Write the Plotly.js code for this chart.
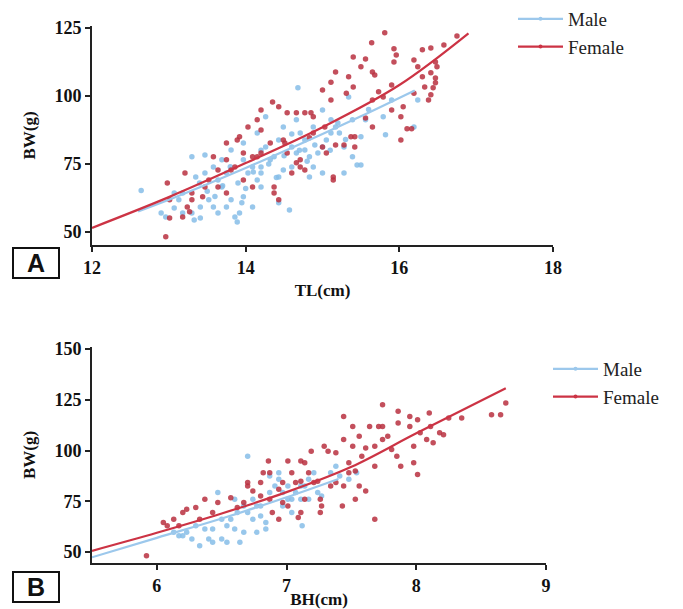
<!DOCTYPE html>
<html>
<head>
<meta charset="utf-8">
<script src="https://cdn.plot.ly/plotly-3.0.1.min.js"></script>
<style>html,body{margin:0;padding:0;background:#fff;}#chart{width:683px;height:609px;}</style>
</head>
<body>
<div id="chart"></div>
<script>
// ---------- Panel A : TL (cm) vs BW (g) ----------
var tlMaleX = [12.64,12.9,12.96,13.07,13.13,13.18,13.3,13.33,13.41,13.47,13.52,13.58,13.64,13.64,13.69,13.75,13.81,13.86,13.89,13.92,13.95,13.97,13.97,14.03,14.09,14.15,14.2,14.2,14.26,14.32,14.37,14.43,14.49,14.43,14.57,14.6,14.66,14.68,14.71,14.77,14.83,14.88,14.94,15.0,15.05,15.11,15.17,15.22,15.28,15.34,15.39,15.45,15.5,15.5,15.56,15.82,15.79,15.9,14.26,14.15,13.97,13.81,13.69,13.58,13.47,13.35,13.3,14.88,14.49,14.66,15.0,15.11,14.43,14.77,14.2,14.09,13.75,13.41,13.18,13.07,14.6,14.83,15.0,15.28,15.39,16.19,16.24,
  13.5,13.7,13.9,14.1,14.3,14.5,14.7,14.9,15.1,15.3,13.6,14.0,14.4,14.8,15.2,15.6,14.6,14.2,13.8,13.4];
var tlMaleY = [65.2,57,55.5,58.8,61.8,57,57,54.4,55.1,78.3,61.8,59.2,57,69.1,66.5,71.7,61.8,55.5,53.7,57,60.7,62.9,76.5,71.7,73.9,69.1,66.5,73.9,81.2,76.5,77.6,70.2,72.8,60.7,58.1,81.2,79,103,86.4,83.8,77.6,73.9,79,81.2,83.8,86.4,88.6,86.4,71.7,99.6,91.2,74.6,74.6,85,91.2,85.7,92.3,98.5,92.3,86.4,82.7,80.1,76.5,73.9,71.7,70.2,77.6,88.6,88.6,91.2,94.8,91.2,83.8,80.1,71.7,59.2,59.2,59.2,64.3,64.3,73.9,70.2,71.7,81.2,77.6,88.6,98.5,
  65,67,68,72,75,78,80,82,80,84,63,66,70,76,90,95,86,80,74,68];
var tlFemaleX = [15.81,15.64,16.75,16.58,16.41,16.3,15.93,15.96,15.56,15.4,16.19,16.47,15.93,15.5,15.65,15.68,15.17,15.34,16.41,16.47,16.47,16.44,16.41,16.38,15.9,15.73,15.79,15.65,15.11,15.0,15.31,16.05,15.9,16.02,16.1,16.16,16.02,15.65,15.56,15.42,15.28,15.17,15.14,15.14,15.05,15.0,14.88,14.85,14.77,14.66,14.54,14.43,14.35,14.2,14.15,14.03,13.92,13.89,14.2,14.32,14.49,14.54,14.71,14.71,14.77,14.83,14.88,15.03,14.2,14.09,13.97,13.86,13.81,13.75,13.97,14.37,14.37,14.43,14.15,13.64,13.52,13.47,13.64,13.75,13.44,13.3,13.24,13.27,13.18,13.3,13.01,13.01,12.98,13.21,12.96,13.75,13.58,14.09,14.6,14.66,14.51,15.11,15.4,15.42,15.37,16.19,16.33,16.3,16.24,16.49];
var tlFemaleY = [123.2,119.5,122,118.7,117.6,117,117.3,115,113.6,114.3,113.2,112.5,112.5,110.7,108.8,107.7,108.8,107,108.5,106.6,104.8,103,100.4,98.5,104,101.5,99.6,98.5,105,102.2,101,96,94.8,92.3,87.9,87.9,83.8,88.6,91.9,85,82,82,70.2,69.1,79,81.2,92.3,93.8,93.8,93.8,93.8,96,97.8,94.8,91.2,88.6,85,83.8,87.5,82.7,83.8,79,76.5,73.9,72.8,84.6,86.4,88.6,79,77.6,79,73.9,72.8,76.5,69.1,66.5,64.3,61.8,77.6,72.8,69.1,66.5,66.5,64.3,62.9,61.8,59.2,57.4,55.5,64.3,61.8,55.1,68,71.7,48.2,82.7,77.6,66.5,71.7,75.4,82.7,98.5,103.3,81.2,85,101,103.3,107,110.7,110.7];
var tlMaleFitX = [12.6,13,14,15,15.5,16.2];
var tlMaleFitY = [57.5,61.8,73.5,86,92.5,102];
var tlFemaleFitX = [12,13,14,15,16,16.9];
var tlFemaleFitY = [51.5,62.8,75.3,88.5,104,123];

// ---------- Panel B : BH (cm) vs BW (g) ----------
var bhMaleX = [6.13,6.2,6.27,6.33,6.4,6.43,6.5,6.54,6.47,6.54,6.6,6.64,6.67,6.7,6.7,6.74,6.77,6.8,6.84,6.87,6.91,6.94,6.97,7.01,7.04,7.07,7.11,7.12,7.14,7.17,7.21,7.24,7.27,6.94,6.87,6.8,6.67,6.62,6.57,6.5,6.43,6.37,6.3,6.23,6.17,6.97,7.04,7.11,7.17,7.34,7.38,7.41,7.48,7.54,6.77,6.84,6.74,7.01,6.6];
var bhMaleY = [59.7,58,56.4,53.1,56.4,54.8,56.4,54.8,79.3,62.9,61.3,54.8,59.7,97.2,69.5,66.2,72.7,67.8,61.3,79.3,82.5,85.8,79.3,82.5,76,79.3,76,62.9,82.5,85.8,89.1,79.3,77.6,89.1,87.4,72.7,72.7,69.5,66.2,66.2,61.3,61.3,62.9,59.7,58,72.7,69.5,82.5,76,89.1,92.3,87.4,85.8,89.1,59.7,64.6,76,76,76];
var bhFemaleX = [5.92,6.05,6.08,6.17,6.2,6.23,6.3,6.13,6.43,6.47,6.57,6.7,6.7,6.8,6.82,6.86,6.74,6.8,6.87,6.89,6.94,6.97,7.01,7.04,7.07,7.11,7.11,7.14,7.17,7.21,7.24,7.26,7.27,7.26,7.11,7.09,7.01,7.29,7.32,7.38,7.44,7.44,7.44,7.43,7.48,7.51,7.53,7.53,7.56,7.56,7.61,7.61,7.68,7.68,7.68,7.71,7.74,7.74,7.78,7.81,7.85,7.86,7.86,7.88,7.95,7.98,7.98,8.01,8.01,8.03,8.08,8.1,8.11,8.13,8.18,8.21,8.25,8.35,8.58,8.65,8.69,7.95,7.74,7.58,7.48,7.38,7.34,6.97,6.94,6.67,6.62,6.33,6.37,7.14,6.87,7.19,7.64,7.51];
var bhFemaleY = [48.2,64.6,62.9,62.9,69.5,71.1,71.9,66.2,69.5,74.4,76.8,82.5,84.2,84.2,89.1,94.8,80.1,77.6,76,69.5,66.2,74.4,94.8,89.1,84.2,84.9,94.8,94,89.1,84.2,84.9,76,72.7,69.5,69.5,67,72.7,102.1,99.7,98.9,116.8,105.4,82.5,72.7,94,102.1,89.9,76,82.5,107,101.3,80.1,102.1,92.3,66.2,111.9,122.5,111.9,107,100.5,97.2,119.3,113.6,92.3,116.8,102.1,94,115.2,88.2,108.7,105.4,118.5,111.9,103.8,108.7,107.8,116,116,117.6,117.6,123.4,111.9,105.4,97.2,89.1,84.2,82.5,84.2,80.9,74.4,71.9,66.2,76,76,89.1,99.7,111.9,111.9];
var bhMaleFitX = [5.5,6,6.5,7,7.4];
var bhMaleFitY = [47.4,57,66.5,77,86];
var bhFemaleFitX = [5.5,6,6.5,7,7.5,8,8.69];
var bhFemaleFitY = [50.6,59.5,69,79.5,92,108.5,130.7];

var seriesNames = ['Male','Female'];
var maleColor = '#86bde8', femaleColor = '#b8303f';
var maleLine = '#9cc8ec', femaleLine = '#cc3344';

var serif = 'Times New Roman';
var tickFont = {family: serif, size: 18, color: '#111', weight: 'bold'};
var titleFont = {family: serif, size: 17, color: '#111', weight: 'bold'};
var legFont = {family: serif, size: 19, color: '#222'};

function pts(x, y, color, xa, ya) {
  return {x: x, y: y, xaxis: xa, yaxis: ya, type: 'scatter', mode: 'markers',
    marker: {color: color, size: 5.5, opacity: 0.85}, showlegend: false, hoverinfo: 'skip'};
}
function fit(x, y, color, xa, ya) {
  return {x: x, y: y, xaxis: xa, yaxis: ya, type: 'scatter', mode: 'lines',
    line: {color: color, width: 2.2, shape: 'spline'}, showlegend: false, hoverinfo: 'skip'};
}
function leg(name, color, lg, grp, xa, ya) {
  return {x: [null], y: [null], xaxis: xa, yaxis: ya, type: 'scatter', mode: 'lines+markers',
    name: name, legend: lg, legendgroup: grp,
    line: {color: color, width: 2.2}, marker: {color: color, size: 4}};
}

var data = [
  pts(tlMaleX, tlMaleY, maleColor, 'x', 'y'),
  pts(tlFemaleX, tlFemaleY, femaleColor, 'x', 'y'),
  fit(tlMaleFitX, tlMaleFitY, maleLine, 'x', 'y'),
  fit(tlFemaleFitX, tlFemaleFitY, femaleLine, 'x', 'y'),
  pts(bhMaleX, bhMaleY, maleColor, 'x2', 'y2'),
  pts(bhFemaleX, bhFemaleY, femaleColor, 'x2', 'y2'),
  fit(bhMaleFitX, bhMaleFitY, maleLine, 'x2', 'y2'),
  fit(bhFemaleFitX, bhFemaleFitY, femaleLine, 'x2', 'y2'),
  leg(seriesNames[0], maleLine, 'legend', 'a1', 'x', 'y'),
  leg(seriesNames[1], femaleLine, 'legend', 'a2', 'x', 'y'),
  leg(seriesNames[0], maleLine, 'legend2', 'b1', 'x2', 'y2'),
  leg(seriesNames[1], femaleLine, 'legend2', 'b2', 'x2', 'y2')
];

function axisBase() {
  return {showline: true, linewidth: 2, linecolor: '#222', ticks: 'outside', ticklen: 5,
    tickwidth: 2, tickcolor: '#222', showgrid: false, zeroline: false, tickfont: tickFont, fixedrange: true};
}
var W = 683, H = 609;
var xa = Object.assign(axisBase(), {domain: [92/W, 553/W], range: [12, 18], tickvals: [12,14,16,18], anchor: 'y',
  title: {text: 'TL(cm)', font: titleFont, standoff: 8}});
var ya = Object.assign(axisBase(), {domain: [1-245/H, 1-26/H], range: [45.2, 125.7], tickvals: [50,75,100,125], anchor: 'x',
  title: {text: 'BW(g)', font: titleFont, standoff: 14}});
var xa2 = Object.assign(axisBase(), {domain: [92/W, 546/W], range: [5.5, 9], tickvals: [6,7,8,9], anchor: 'y2',
  title: {text: 'BH(cm)', font: titleFont, standoff: 5}});
var ya2 = Object.assign(axisBase(), {domain: [1-563/H, 1-347/H], range: [44.6, 151], tickvals: [50,75,100,125,150], anchor: 'x2',
  title: {text: 'BW(g)', font: titleFont, standoff: 14}});

var layout = {
  width: W, height: H, margin: {l: 0, r: 0, t: 0, b: 0},
  font: {family: serif, color: '#222'},
  paper_bgcolor: '#fff', plot_bgcolor: '#fff', showlegend: true,
  xaxis: xa, yaxis: ya, xaxis2: xa2, yaxis2: ya2,
  legend: {x: 513/W, xanchor: 'left', y: 1, yanchor: 'top', font: legFont, bgcolor: 'rgba(0,0,0,0)',
    traceorder: 'grouped', tracegroupgap: 0, itemwidth: 45},
  legend2: {x: 548/W, xanchor: 'left', y: 1-350/H, yanchor: 'top', font: legFont, bgcolor: 'rgba(0,0,0,0)',
    traceorder: 'grouped', tracegroupgap: 0, itemwidth: 45},
  shapes: [
    {type: 'rect', xref: 'paper', yref: 'paper', x0: 13/W, x1: 59/W, y0: 1-278/H, y1: 1-248/H, line: {color: '#111', width: 2}},
    {type: 'rect', xref: 'paper', yref: 'paper', x0: 13/W, x1: 59/W, y0: 1-602/H, y1: 1-572/H, line: {color: '#111', width: 2}}
  ],
  annotations: [
    {text: 'A', xref: 'paper', yref: 'paper', x: 36/W, y: 1-263/H, xanchor: 'center', yanchor: 'middle', showarrow: false,
      font: {family: 'Arial', size: 25, color: '#111', weight: 'bold'}},
    {text: 'B', xref: 'paper', yref: 'paper', x: 36/W, y: 1-587/H, xanchor: 'center', yanchor: 'middle', showarrow: false,
      font: {family: 'Arial', size: 25, color: '#111', weight: 'bold'}}
  ]
};

Plotly.newPlot('chart', data, layout, {displayModeBar: false, staticPlot: true});
</script>
</body>
</html>
